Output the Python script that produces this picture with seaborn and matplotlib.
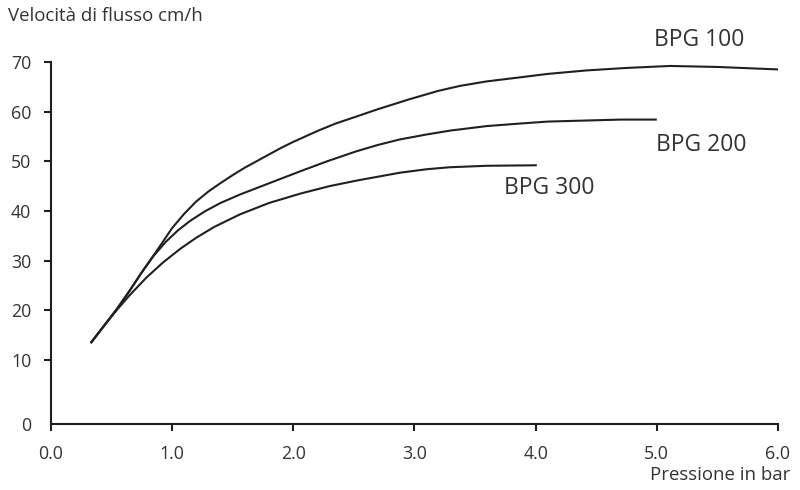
import pandas as pd
import matplotlib
matplotlib.use("Agg")
import matplotlib.pyplot as plt
import seaborn as sns

# Valori (pressione in bar, velocità di flusso cm/h)
bpg100_x = [0.33, 0.45, 0.55, 0.65, 0.75, 0.87, 1.0, 1.1, 1.2, 1.3, 1.4, 1.5, 1.6, 1.75, 1.9,
            2.0, 2.2, 2.35, 2.52, 2.7, 2.96, 3.2, 3.38, 3.6, 3.87, 4.1, 4.42, 4.75, 5.11, 5.5, 6.0]
bpg100_y = [13.4, 17.2, 20.4, 23.9, 27.6, 31.8, 36.5, 39.4, 41.9, 43.9, 45.6, 47.2, 48.7, 50.7, 52.7,
            53.9, 56.1, 57.6, 59.0, 60.5, 62.5, 64.2, 65.2, 66.1, 66.9, 67.6, 68.3, 68.8, 69.2, 69.0, 68.5]

bpg200_x = [0.33, 0.45, 0.55, 0.65, 0.75, 0.85, 0.95, 1.05, 1.15, 1.27, 1.4, 1.56, 1.73, 1.9,
            2.06, 2.28, 2.52, 2.7, 2.88, 3.1, 3.3, 3.6, 3.87, 4.1, 4.4, 4.7, 5.0]
bpg200_y = [13.4, 17.2, 20.4, 23.9, 27.6, 31.0, 33.8, 36.1, 38.0, 39.9, 41.6, 43.3, 44.9, 46.5,
            48.0, 50.0, 52.0, 53.3, 54.4, 55.4, 56.2, 57.1, 57.6, 58.0, 58.2, 58.4, 58.4]

bpg300_x = [0.33, 0.45, 0.55, 0.65, 0.79, 0.93, 1.07, 1.2, 1.35, 1.56, 1.8, 2.06, 2.3, 2.52,
            2.7, 2.88, 3.1, 3.29, 3.6, 4.01]
bpg300_y = [13.4, 17.2, 20.2, 23.0, 26.6, 29.7, 32.4, 34.6, 36.8, 39.3, 41.6, 43.5, 45.0, 46.1,
            46.9, 47.7, 48.4, 48.8, 49.1, 49.2]

series_names = ["BPG 100", "BPG 200", "BPG 300"]
x_ticks = [0, 1, 2, 3, 4, 5, 6]
x_tick_labels = ["0.0", "1.0", "2.0", "3.0", "4.0", "5.0", "6.0"]
y_ticks = [10, 20, 30, 40, 50, 60, 70]

df = pd.concat([
    pd.DataFrame({"pressione": bpg100_x, "velocita": bpg100_y, "colonna": series_names[0]}),
    pd.DataFrame({"pressione": bpg200_x, "velocita": bpg200_y, "colonna": series_names[1]}),
    pd.DataFrame({"pressione": bpg300_x, "velocita": bpg300_y, "colonna": series_names[2]}),
])

sns.set_style("ticks")
plt.rcParams["font.family"] = ["Open Sans", "DejaVu Sans"]
text_col = "#333333"
line_col = "#231f20"

fig = plt.figure(figsize=(8, 4.9), dpi=100)
ax = fig.add_axes([0.0634, 0.1347, 0.9091, 0.7388])

sns.lineplot(data=df, x="pressione", y="velocita", hue="colonna",
             palette=[line_col] * 3, estimator=None, sort=False,
             linewidth=1.5, legend=False, ax=ax)
for ln in ax.lines:
    ln.set_solid_joinstyle("round")
    ln.set_solid_capstyle("butt")

ymin = -2.9
ax.set_xlim(0, 6)
ax.set_ylim(ymin, 70)
ax.set_xticks(x_ticks, labels=x_tick_labels)
ax.set_yticks([ymin] + y_ticks, labels=["0"] + [str(v) for v in y_ticks])
ax.yaxis.get_major_ticks()[0].tick1line.set_visible(False)

sns.despine(ax=ax)
for s in ["left", "bottom"]:
    ax.spines[s].set_linewidth(1.5)
    ax.spines[s].set_color(line_col)
ax.tick_params(axis="both", length=5, width=1.5, color=line_col,
               labelsize=12.8, labelcolor=text_col)
ax.tick_params(axis="x", pad=10)
ax.tick_params(axis="y", pad=9)
ax.set_xlabel("")
ax.set_ylabel("")

fig.text(0.01, 0.958, "Velocità di flusso cm/h", fontsize=13.4, color=text_col, va="baseline")
fig.text(0.988, 0.021, "Pressione in bar", fontsize=13.4, color=text_col, ha="right", va="baseline")

ax.text(5.35, 74.4, "BPG 100", fontsize=16.5, color=text_col, ha="center", va="center", clip_on=False)
ax.text(5.37, 53.3, "BPG 200", fontsize=16.5, color=text_col, ha="center", va="center")
ax.text(4.11, 44.6, "BPG 300", fontsize=16.5, color=text_col, ha="center", va="center")

fig.savefig("out.png", dpi=100)
